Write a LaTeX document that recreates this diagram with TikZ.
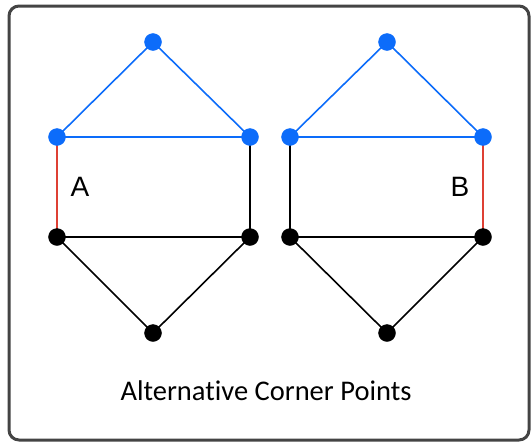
\documentclass[tikz,border=0pt]{standalone}
\usepackage{fontspec}
\setmainfont[Ligatures=NoCommon]{Carlito}
\newfontfamily\labelfont{Liberation Sans}
\definecolor{ptblue}{RGB}{12,108,250}
\definecolor{edgered}{RGB}{222,64,52}
\definecolor{framegray}{RGB}{68,68,68}

\begin{document}
\begin{tikzpicture}[x=1pt,y=-1pt]
\useasboundingbox (0,0) rectangle (532,442);
\draw[framegray, line width=3pt, rounded corners=10pt] (9,6) rectangle (529,440);

% left house
\coordinate (aT) at (153,42);
\coordinate (aL) at (57,137);
\coordinate (aR) at (250,137);
\coordinate (aBL) at (57,237);
\coordinate (aBR) at (250,237);
\coordinate (aB) at (153,333);
% right house
\coordinate (bT) at (387,42);
\coordinate (bL) at (290,137);
\coordinate (bR) at (483,137);
\coordinate (bBL) at (290,237);
\coordinate (bBR) at (483,237);
\coordinate (bB) at (387,333);

\draw[ptblue, line width=1.6pt] (aL) -- (aT) -- (aR) -- (aL);
\draw[edgered, line width=1.6pt] (aL) -- (aBL);
\draw[black, line width=1.6pt] (aR) -- (aBR);
\draw[black, line width=1.6pt] (aBL) -- (aBR) -- (aB) -- (aBL);

\draw[ptblue, line width=1.6pt] (bL) -- (bT) -- (bR) -- (bL);
\draw[black, line width=1.6pt] (bL) -- (bBL);
\draw[edgered, line width=1.6pt] (bR) -- (bBR);
\draw[black, line width=1.6pt] (bBL) -- (bBR) -- (bB) -- (bBL);

\filldraw[ptblue] (aT) circle (8.5pt);
\filldraw[ptblue] (aL) circle (8.5pt);
\filldraw[ptblue] (aR) circle (8.5pt);
\filldraw[black] (aBL) circle (8.5pt);
\filldraw[black] (aBR) circle (8.5pt);
\filldraw[black] (aB) circle (8.5pt);
\filldraw[ptblue] (bT) circle (8.5pt);
\filldraw[ptblue] (bL) circle (8.5pt);
\filldraw[ptblue] (bR) circle (8.5pt);
\filldraw[black] (bBL) circle (8.5pt);
\filldraw[black] (bBR) circle (8.5pt);
\filldraw[black] (bB) circle (8.5pt);

\node (labA) at (80,187) {\labelfont\fontsize{28}{30}\selectfont A};
\node (labB) at (460,187) {\labelfont\fontsize{28}{30}\selectfont B};
\node (title) at (266,391) {\fontsize{28.5}{32}\selectfont Alternative Corner Points};
\end{tikzpicture}
\end{document}
